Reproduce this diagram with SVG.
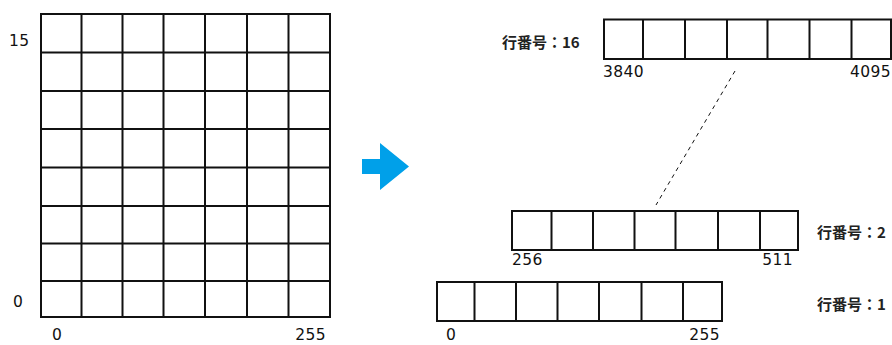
<svg xmlns="http://www.w3.org/2000/svg" width="892" height="345" viewBox="0 0 892 345">
  <style>
    .ln { stroke: #111; stroke-width: 2; fill: none; }
    .cell { stroke: #111; stroke-width: 2; fill: #fff; }
    .rnum { font-family: "DejaVu Sans", "Noto Sans", sans-serif; font-size: 15.5px; letter-spacing: 0.4px; fill: #111; }
    .lbl { font-family: "Noto Sans CJK JP", "Noto Sans", sans-serif; font-size: 15px; font-weight: bold; fill: #222; }
    .dash { stroke: #111; stroke-width: 1; stroke-dasharray: 4 4; fill: none; }
  </style>
  <rect width="892" height="345" fill="#fff"/>

  <g id="grid">
    <rect class="cell" x="41" y="14" width="289" height="303"/>
    <path class="ln" d="M81.5 14V317M122.5 14V317M163.5 14V317M205 14V317M247 14V317M288.5 14V317"/>
    <path class="ln" d="M41 52.5H330M41 91H330M41 129H330M41 167.5H330M41 206H330M41 243.5H330M41 281H330"/>
    <text class="rnum" x="9" y="46">15</text>
    <text class="rnum" x="13" y="307">0</text>
    <text class="rnum" x="52" y="340">0</text>
    <text class="rnum" x="326" y="340" text-anchor="end">255</text>
  </g>

  <g id="arrow">
    <path d="M362 159H380V143L409 166.5L380 190V174H362Z" fill="#00a0e9"/>
  </g>

  <g id="row16">
    <rect class="cell" x="604" y="19.5" width="287" height="39.5"/>
    <path class="ln" d="M643 19.5V59M685 19.5V59M727 19.5V59M767.5 19.5V59M809.5 19.5V59M851.5 19.5V59"/>
    <text class="lbl" x="502" y="48">行番号：16</text>
    <text class="rnum" x="603" y="77">3840</text>
    <text class="rnum" x="891" y="77" text-anchor="end">4095</text>
  </g>

  <g id="row2">
    <rect class="cell" x="512" y="211" width="286" height="39"/>
    <path class="ln" d="M551.5 211V250M593 211V250M634.5 211V250M675.5 211V250M718 211V250M760 211V250"/>
    <text class="lbl" x="817" y="238">行番号：2</text>
    <text class="rnum" x="512" y="265">256</text>
    <text class="rnum" x="793" y="265" text-anchor="end">511</text>
  </g>

  <g id="row1">
    <rect class="cell" x="437" y="282" width="285" height="39"/>
    <path class="ln" d="M474.5 282V321M516 282V321M557.5 282V321M599 282V321M641.5 282V321M683 282V321"/>
    <text class="lbl" x="817" y="310">行番号：1</text>
    <text class="rnum" x="446" y="340">0</text>
    <text class="rnum" x="720" y="340" text-anchor="end">255</text>
  </g>

  <g id="connectors">
    <line class="dash" x1="735" y1="71" x2="656" y2="205"/>
  </g>
</svg>
